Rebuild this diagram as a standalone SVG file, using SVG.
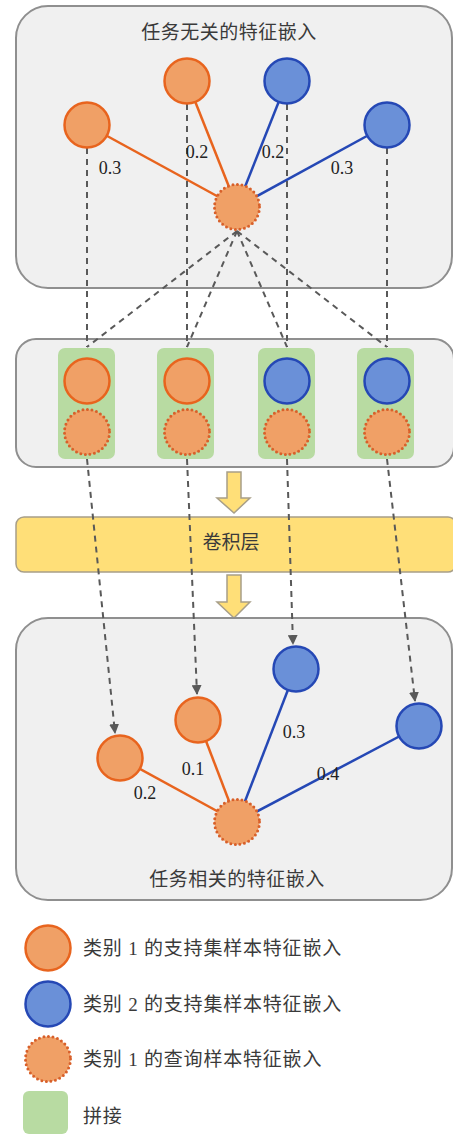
<svg xmlns="http://www.w3.org/2000/svg" width="453" height="1134" viewBox="0 0 453 1134">
<style>
.panel{fill:#f0f0f0;stroke:#8f8f8f;stroke-width:2}
.o{fill:#f0a066;stroke:#e8641e;stroke-width:2.5}
.b{fill:#6a90d8;stroke:#2548b5;stroke-width:2.5}
.q{fill:#f0a066;stroke:#d8602a;stroke-width:3;stroke-dasharray:0 4.6;stroke-linecap:round}
.g{fill:#b8dba2}
.lo{stroke:#e8641e;stroke-width:2.5;fill:none}
.lb{stroke:#2548b5;stroke-width:2.5;fill:none}
.d{stroke:#595959;stroke-width:2;stroke-dasharray:6 5;fill:none}
.zh{font-family:"Liberation Serif","Noto Sans CJK SC",serif;font-size:19px;fill:#3a3a3a}
.lg{letter-spacing:0.8px}
.num{font-family:"Liberation Serif",serif;font-size:18px;fill:#222;text-anchor:middle}
.y{fill:#ffdf78;stroke:#a89f88;stroke-width:1.5}
</style>
<defs>
<marker id="ah" viewBox="0 0 10 10" refX="9" refY="5" markerWidth="5" markerHeight="5" orient="auto" markerUnits="strokeWidth">
<path d="M0,0 L10,5 L0,10 Z" fill="#595959"/>
</marker>
</defs>

<g id="panel-top">
<rect class="panel" x="16" y="6" width="436" height="282" rx="32"/>
<text class="zh" x="229" y="39" text-anchor="middle" letter-spacing="0.5">任务无关的特征嵌入</text>
</g>
<g id="panel-mid">
<rect class="panel" x="16" y="339" width="438" height="128" rx="20"/>
</g>
<g id="conv">
<rect class="y" x="16" y="517" width="440" height="55" rx="8"/>
<text class="zh" x="231" y="549" text-anchor="middle">卷积层</text>
</g>
<g id="arrows-yellow">
<polygon class="y" points="227,472 241,472 241,498 250,498 234,513 217,498 227,498"/>
<polygon class="y" points="227,575 241,575 241,602 250,602 234,618 217,602 227,602"/>
</g>
<g id="panel-bot">
<rect class="panel" x="16" y="618" width="436" height="282" rx="32"/>
<text class="zh" x="237" y="886" text-anchor="middle" letter-spacing="0.5">任务相关的特征嵌入</text>
</g>

<g id="connectors">
<line class="lo" x1="87" y1="125" x2="237" y2="207"/>
<line class="lo" x1="187" y1="81" x2="237" y2="207"/>
<line class="lb" x1="287" y1="81" x2="237" y2="207"/>
<line class="lb" x1="387" y1="125" x2="237" y2="207"/>
<line class="d" x1="87" y1="148" x2="87" y2="347"/>
<line class="d" x1="187" y1="104" x2="187" y2="347"/>
<line class="d" x1="287" y1="104" x2="287" y2="347"/>
<line class="d" x1="387" y1="148" x2="387" y2="347"/>
<line class="d" x1="237" y1="231" x2="87" y2="347"/>
<line class="d" x1="237" y1="231" x2="187" y2="347"/>
<line class="d" x1="237" y1="231" x2="287" y2="347"/>
<line class="d" x1="237" y1="231" x2="387" y2="347"/>
<line class="d" x1="87" y1="459" x2="115" y2="733" marker-end="url(#ah)"/>
<line class="d" x1="187" y1="459" x2="197" y2="694" marker-end="url(#ah)"/>
<line class="d" x1="287" y1="459" x2="293" y2="644" marker-end="url(#ah)"/>
<line class="d" x1="387" y1="459" x2="415" y2="701" marker-end="url(#ah)"/>
<line class="lo" x1="120" y1="758" x2="237" y2="822"/>
<line class="lo" x1="198" y1="720" x2="237" y2="822"/>
<line class="lb" x1="296" y1="669" x2="237" y2="822"/>
<line class="lb" x1="419" y1="726" x2="237" y2="822"/>
</g>

<g id="top-nodes">
<circle id="t-o1" class="o" cx="87" cy="125" r="22.5"/>
<circle id="t-o2" class="o" cx="187" cy="81" r="22.5"/>
<circle id="t-b1" class="b" cx="287" cy="81" r="22.5"/>
<circle id="t-b2" class="b" cx="387" cy="125" r="22.5"/>
<circle id="t-q" class="q" cx="237" cy="207" r="22.5"/>
<text class="num" x="110" y="174">0.3</text>
<text class="num" x="197" y="158">0.2</text>
<text class="num" x="273" y="158">0.2</text>
<text class="num" x="342" y="174">0.3</text>
</g>

<g id="concat-1">
<rect class="g" x="58" y="348" width="57" height="111" rx="7"/>
<circle class="o" cx="87" cy="381" r="22.5"/>
<circle class="q" cx="87" cy="432" r="22.5"/>
</g>
<g id="concat-2">
<rect class="g" x="157" y="348" width="57" height="111" rx="7"/>
<circle class="o" cx="187" cy="381" r="22.5"/>
<circle class="q" cx="187" cy="432" r="22.5"/>
</g>
<g id="concat-3">
<rect class="g" x="258" y="348" width="57" height="111" rx="7"/>
<circle class="b" cx="287" cy="381" r="22.5"/>
<circle class="q" cx="287" cy="432" r="22.5"/>
</g>
<g id="concat-4">
<rect class="g" x="357" y="348" width="57" height="111" rx="7"/>
<circle class="b" cx="387" cy="381" r="22.5"/>
<circle class="q" cx="387" cy="432" r="22.5"/>
</g>

<g id="bottom-nodes">
<circle id="b-o1" class="o" cx="120" cy="758" r="22.5"/>
<circle id="b-o2" class="o" cx="198" cy="720" r="22.5"/>
<circle id="b-b1" class="b" cx="296" cy="669" r="22.5"/>
<circle id="b-b2" class="b" cx="419" cy="726" r="22.5"/>
<circle id="b-q" class="q" cx="237" cy="822" r="22.5"/>
<text class="num" x="145" y="799">0.2</text>
<text class="num" x="193" y="775">0.1</text>
<text class="num" x="294" y="738">0.3</text>
<text class="num" x="328" y="780">0.4</text>
</g>

<g id="legend">
<circle class="o" cx="48" cy="948" r="22.5"/>
<text class="zh lg" x="83" y="955">类别 1 的支持集样本特征嵌入</text>
<circle class="b" cx="48" cy="1004" r="22.5"/>
<text class="zh lg" x="83" y="1011">类别 2 的支持集样本特征嵌入</text>
<circle class="q" cx="48" cy="1059" r="22.5"/>
<text class="zh lg" x="83" y="1066">类别 1 的查询样本特征嵌入</text>
<rect class="g" x="23" y="1091" width="45" height="43" rx="6"/>
<text class="zh lg" x="83" y="1123">拼接</text>
</g>
</svg>
